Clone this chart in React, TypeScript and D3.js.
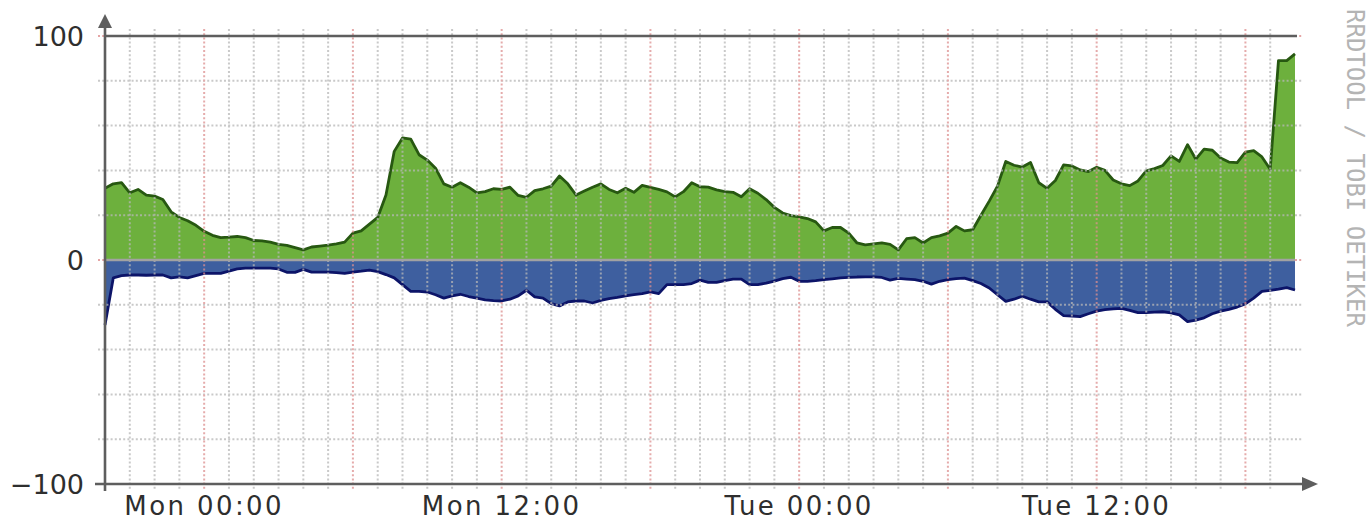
import * as d3 from 'd3';

const width = 1370;
const height = 521;
// plot box
const plot = { left: 105, right: 1295, top: 36, bottom: 484 };

const start = new Date(2024, 0, 7, 20, 0); // Sun 20:00
const end = new Date(2024, 0, 9, 20, 0); // Tue 20:00
const stepMinutes = 20;

// traffic in (green, above zero)
const inbound = [
  32, 34, 34.5, 30, 31.5, 29, 28.5, 27, 21.5, 19,
  17.5, 15.5, 12.8, 11, 10, 10.2, 10.5, 10, 8.7, 8.5,
  8, 7, 6.5, 5.5, 4.5, 5.8, 6.2, 6.6, 7.2, 8,
  12, 13, 16, 19, 29, 48.5, 54.5, 54, 47, 44.6,
  41, 34, 32.5, 34.5, 32.5, 30, 30.5, 31.8, 31.5, 32.5,
  28.8, 28, 31, 31.8, 33, 37.5, 34, 29, 30.8, 32.5,
  34, 31.5, 30, 32, 30.2, 33.3, 32.4, 31.5, 30.4, 28.2,
  30.5, 34.5, 32.7, 32.5, 31.3, 30.5, 30.2, 28.2, 31.8, 29.8,
  27, 23.5, 21, 19.8, 19.3, 18.5, 17, 13, 14.5, 14.5,
  12, 7.6, 6.8, 7.2, 7.6, 7, 4.5, 9.5, 10, 7.6,
  10, 10.8, 12, 15, 13, 13.5, 20, 26.3, 33, 44,
  42.3, 41.5, 43.5, 34.5, 32, 35.5, 42.5, 42, 40.2, 39.5,
  41.4, 40, 35.7, 34, 33.2, 35.3, 39.8, 40.8, 42.2, 46.5,
  44, 51.5, 45, 49.5, 49, 45.5, 43.7, 43.5, 48.2, 48.8,
  46, 40.5, 89, 89, 92,
];

// traffic out (blue, drawn below zero)
const outbound = [
  -29, -8, -7, -6.7, -6.7, -6.8, -6.7, -6.7, -8, -7.5,
  -8, -7, -6, -6, -6, -5, -4, -3.6, -3.6, -3.6,
  -3.6, -4, -5.5, -5.5, -4.2, -5.4, -5.4, -5.4, -5.6, -6,
  -5.4, -5, -4.5, -5.2, -6.5, -8, -11, -14, -14, -14.3,
  -15.5, -17, -16, -15.3, -16.3, -17, -17.8, -18.1, -18.3, -17.5,
  -16, -13.5, -16.5, -17, -19.5, -20.5, -18.7, -18.3, -18.3, -19.2,
  -18, -17.2, -16.7, -16, -15.5, -15, -14.2, -15, -11, -11,
  -11, -10.5, -9, -10, -10, -9.2, -8.5, -8.5, -11, -11,
  -10.3, -9.4, -8.3, -7.7, -9.5, -9.5, -9.2, -8.8, -8.4, -8,
  -7.8, -7.6, -7.5, -7.5, -7.8, -9, -8.2, -8.5, -8.8, -9.5,
  -10.8, -9.5, -8.8, -8.3, -8.1, -9.2, -10.5, -12.5, -15.5, -18.5,
  -17.5, -16.2, -17.5, -18.7, -18.7, -22, -24.8, -25, -25.3, -24,
  -22.8, -22.2, -21.8, -21.6, -22.5, -23.5, -23.5, -23.3, -23.1, -23.6,
  -24.5, -27.5, -26.8, -25.8, -24, -22.8, -22, -21, -19.6, -17,
  -14, -13.6, -13, -12.3, -13.4,
];

const times = inbound.map((_, i) => new Date(+start + i * stepMinutes * 60000));

const xTickLabels = ['Mon 00:00', 'Mon 12:00', 'Tue 00:00', 'Tue 12:00'];
const xTickTimes = [
  new Date(2024, 0, 8, 0),
  new Date(2024, 0, 8, 12),
  new Date(2024, 0, 9, 0),
  new Date(2024, 0, 9, 12),
];
const yTicks = [100, 0, -100];

const font = '"DejaVu Sans", sans-serif';

function App() {
  const x = d3.scaleTime().domain([start, end]).range([plot.left, plot.right]);
  const y = d3.scaleLinear().domain([-100, 100]).range([plot.bottom, plot.top]);

  const areaOf = (vals: number[]) =>
    d3
      .area<number>()
      .x((_, i) => x(times[i]))
      .y0(y(0))
      .y1((d) => y(d))(vals) || '';
  const lineOf = (vals: number[]) =>
    d3
      .line<number>()
      .x((_, i) => x(times[i]))
      .y((d) => y(d))(vals) || '';

  const hours = d3.timeHour.range(d3.timeHour.offset(start, 1), end);
  const hLines = d3.range(-100, 101, 20);

  return (
    <div style={{ position: 'absolute', left: 0, top: 0 }}>
      <svg width={width} height={height} style={{ display: 'block', background: '#fff' }}>
        {/* data */}
        <path d={areaOf(inbound)} fill="#6db03d" />
        <path d={areaOf(outbound)} fill="#3e5f9f" />
        <path d={lineOf(inbound)} fill="none" stroke="#275811" strokeWidth={2.8} strokeLinejoin="round" />
        <path d={lineOf(outbound)} fill="none" stroke="#0c1468" strokeWidth={2.8} strokeLinejoin="round" />

        {/* grid, drawn over the areas */}
        <g strokeWidth={2} strokeDasharray="2 2.2" opacity={0.75}>
          {hLines.map((v) => (
            <line
              key={'h' + v}
              x1={98}
              x2={1303}
              y1={y(v)}
              y2={y(v)}
              stroke={yTicks.includes(v) ? '#dd8888' : '#b8b8b8'}
            />
          ))}
          {hours.map((h) => (
            <line
              key={'v' + +h}
              x1={x(h)}
              x2={x(h)}
              y1={29}
              y2={491}
              stroke={h.getHours() % 6 === 0 ? '#dd9090' : '#b8b8b8'}
            />
          ))}
        </g>

        {/* zero line and top line */}
        <line x1={plot.left} x2={plot.right} y1={y(0)} y2={y(0)} stroke="#a2a2a2" strokeWidth={2.4} />
        <line x1={plot.left} x2={1297} y1={y(100)} y2={y(100)} stroke="#5e5e5e" strokeWidth={2.6} />

        {/* axes */}
        <line x1={plot.left} x2={plot.left} y1={491} y2={24} stroke="#5e5e5e" strokeWidth={2.6} />
        <polygon points={`105,14 98,28 112,28`} fill="#5e5e5e" />
        <line x1={95} x2={1305} y1={y(-100)} y2={y(-100)} stroke="#5e5e5e" strokeWidth={2.6} />
        <polygon points={`1318,484 1302,477 1302,491`} fill="#5e5e5e" />

        {/* labels */}
        {yTicks.map((v) => (
          <text
            key={'yl' + v}
            x={84}
            y={y(v)}
            dy="0.36em"
            textAnchor="end"
            fontFamily={font}
            fontSize={27}
            fill="#2e2e2e"
          >
            {v < 0 ? '\u2212' + Math.abs(v) : v}
          </text>
        ))}
        {xTickLabels.map((label, i) => (
          <text
            key={label}
            x={x(xTickTimes[i])}
            y={514.5}
            textAnchor="middle"
            fontFamily={font}
            fontSize={26}
            letterSpacing={2.4}
            fill="#2e2e2e"
          >
            {label}
          </text>
        ))}
        <text
          transform="translate(1347,9) rotate(90)"
          fontFamily='"DejaVu Sans Mono", monospace'
          fontSize={24}
          fill="#b4b4b4"
        >
          RRDTOOL / TOBI OETIKER
        </text>
      </svg>
    </div>
  );
}

export default App;
